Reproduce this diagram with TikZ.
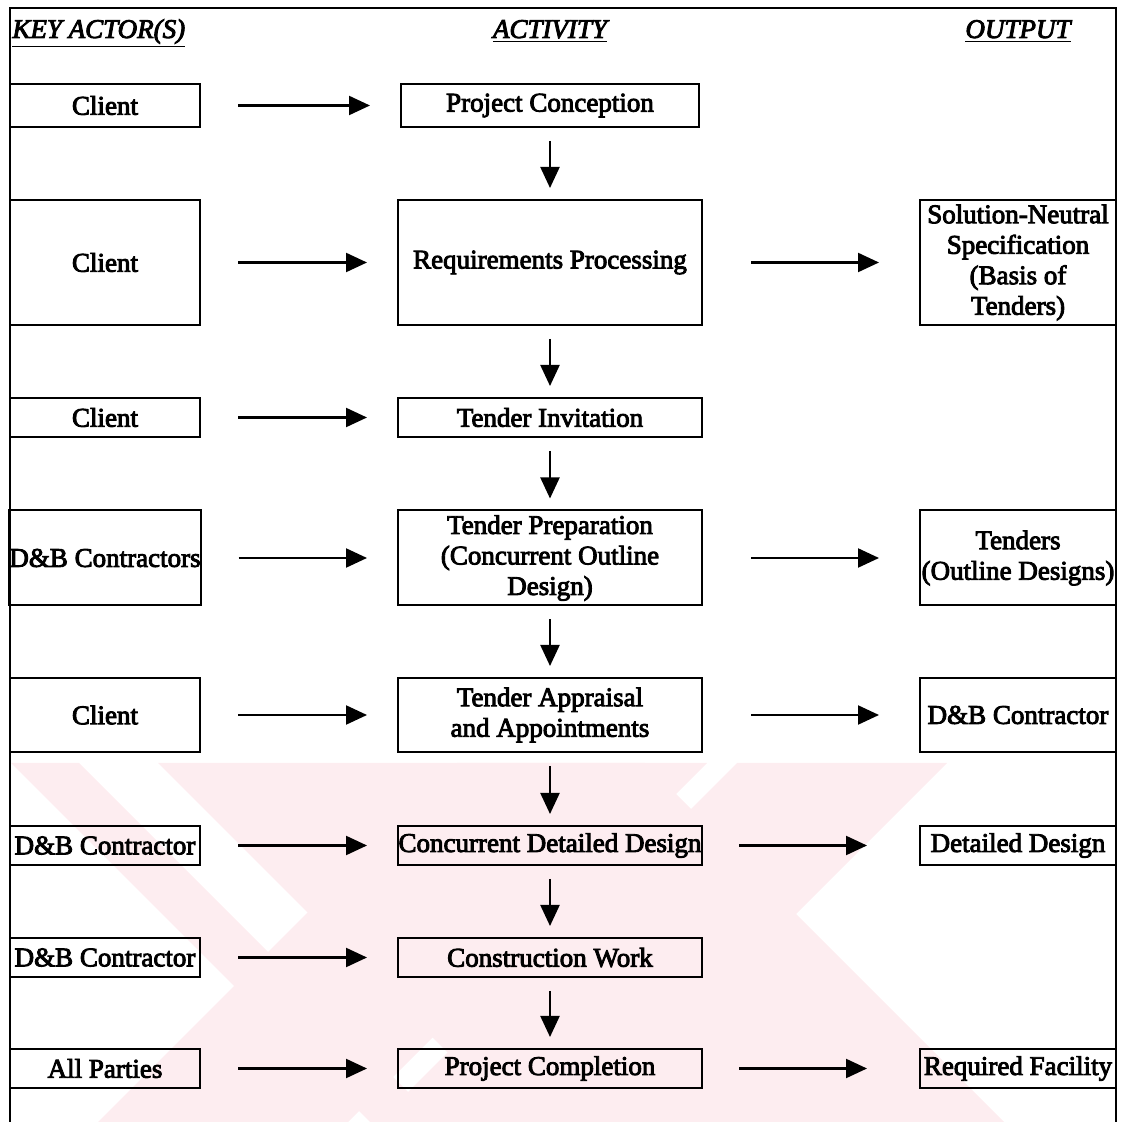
\documentclass[tikz,border=0pt]{standalone}
\usepackage{fontspec}
\setmainfont{Liberation Serif}
\usetikzlibrary{arrows.meta}
% text painted with fill and a thin stroke for a heavier letterform
\newcommand\inkon{\special{pdf:literal direct 2 Tr 0.45 w}}
\newcommand\boxfont{\fontsize{13.5pt}{15.25pt}\selectfont\inkon}
\definecolor{wm}{RGB}{253,237,240}
\tikzset{
  box/.style={draw, line width=1pt, inner sep=0pt, align=center, font=\boxfont},
  lbox/.style={box, minimum width=95pt},
  mbox/.style={box, minimum width=152pt},
  rbox/.style={box, minimum width=98pt},
  hdr/.style={inner sep=0pt, font=\boxfont\itshape},
  flow/.style={-{Triangle[length=10.5pt,width=9.5pt]}, line width=1.1pt},
  fwdl/.style={flow, shorten <=18.5pt, shorten >=15pt},
  fwdr/.style={flow, shorten <=24pt, shorten >=20pt},
  fwds/.style={flow, shorten <=18pt, shorten >=26pt},
  down/.style={flow, shorten <=6.5pt, shorten >=5.5pt},
}
\begin{document}
\begin{tikzpicture}[x=0.5pt,y=-0.5pt]
\useasboundingbox (0,0) rectangle (1126,1122);

% pale striped emblem in the lower part
\begin{scope}
  \clip (10,763) rectangle (1116,1122);
  \fill[wm] (11,763) -- (79,763) -- (438,1122) -- (370,1122) -- cycle;
  \fill[wm] (158,763) -- (645,763) -- (1004,1122) -- (517,1122) -- cycle;
  \fill[wm] (457,763) -- (707,763) -- (348,1122) -- (98,1122) -- cycle;
  \fill[wm] (737,763) -- (947,763) -- (588,1122) -- (378,1122) -- cycle;
\end{scope}

% outer frame (open at the bottom)
\draw[line width=0.9pt] (10,1122) -- (10,8) -- (1116,8) -- (1116,1122);

% column headings
\node[hdr, anchor=base west] (h1) at (12,38) {\underline{KEY ACTOR(S)}};
\node[hdr, anchor=base] (h2) at (550,38) {\underline{ACTIVITY}};
\node[hdr, anchor=base] (h3) at (1018,38) {\underline{OUTPUT}};

% row 1
\node[lbox, minimum height=21.5pt] (a1) at (105,105.5) {Client};
\node[box, minimum width=149pt, minimum height=21.5pt] (b1) at (550,105.5) {Project Conception};
% row 2
\node[lbox, minimum height=62.5pt] (a2) at (105,262.5) {Client};
\node[mbox, minimum height=62.5pt] (b2) at (550,262.5) {Requirements Processing};
\node[rbox, minimum height=62.5pt] (c2) at (1018,262.5) {Solution-Neutral\\Specification\\(Basis of\\Tenders)};
% row 3
\node[lbox, minimum height=19.5pt] (a3) at (105,417.5) {Client};
\node[mbox, minimum height=19.5pt] (b3) at (550,417.5) {Tender Invitation};
% row 4
\node[lbox, minimum height=47.5pt] (a4) at (105,558) {D\&B Contractors};
\node[mbox, minimum height=47.5pt] (b4) at (550,558) {Tender Preparation\\(Concurrent Outline\\Design)};
\node[rbox, minimum height=47.5pt] (c4) at (1018,558) {Tenders\\(Outline Designs)};
% row 5
\node[lbox, minimum height=37pt] (a5) at (105,715) {Client};
\node[mbox, minimum height=37pt] (b5) at (550,715) {Tender Appraisal\\and Appointments};
\node[rbox, minimum height=37pt] (c5) at (1018,715) {D\&B Contractor};
% row 6
\node[lbox, minimum height=19.5pt] (a6) at (105,845.5) {D\&B Contractor};
\node[mbox, minimum height=19.5pt] (b6) at (550,845.5) {Concurrent Detailed Design};
\node[rbox, minimum height=19.5pt] (c6) at (1018,845.5) {Detailed Design};
% row 7
\node[lbox, minimum height=19.5pt] (a7) at (105,957.5) {D\&B Contractor};
\node[mbox, minimum height=19.5pt] (b7) at (550,957.5) {Construction Work};
% row 8
\node[lbox, minimum height=19.5pt] (a8) at (105,1068.5) {All Parties};
\node[mbox, minimum height=19.5pt] (b8) at (550,1068.5) {Project Completion};
\node[rbox, minimum height=19.5pt] (c8) at (1018,1068.5) {Required Facility};

% actor -> activity
\foreach \r in {1,...,8} \draw[fwdl] (a\r) -- (b\r);
% activity -> output
\foreach \r in {2,4,5} \draw[fwdr] (b\r) -- (c\r);
\foreach \r in {6,8} \draw[fwds] (b\r) -- (c\r);
% activity sequence
\foreach \r/\s in {1/2,2/3,3/4,4/5,5/6,6/7,7/8} \draw[down] (b\r) -- (b\s);
\end{tikzpicture}
\end{document}
